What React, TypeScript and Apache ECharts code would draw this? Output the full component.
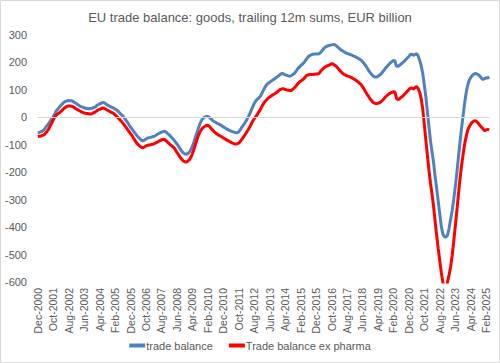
import React, { useEffect, useRef } from "react";
import * as echarts from "echarts";

const TITLE = "EU trade balance: goods, trailing 12m sums, EUR billion";
const MONTHS = ["Jan", "Feb", "Mar", "Apr", "May", "Jun", "Jul", "Aug", "Sep", "Oct", "Nov", "Dec"];
const START_YEAR = 2000;
const START_MONTH = 11; // Dec

// trade balance (EUR bn), monthly from Dec-2000
const tradeBalance: number[] = [
  -56,
  -55, -53, -50, -46, -37, -30, -23, -14, -6, 2, 12, 24,
  30, 37, 44, 50, 55, 58, 60, 61, 60, 60, 57, 53,
  50, 46, 42, 39, 37, 35, 33, 32, 31, 32, 33, 35,
  37, 42, 46, 49, 52, 54, 53, 49, 45, 42, 39, 36,
  34, 30, 27, 22, 16, 10, 5, -2, -10, -18, -27, -36,
  -43, -51, -58, -66, -72, -78, -83, -86, -83, -79, -76, -74,
  -73, -71, -70, -67, -63, -60, -57, -54, -52, -51, -54, -59,
  -64, -70, -76, -82, -90, -97, -105, -114, -122, -129, -133, -135,
  -132, -127, -118, -106, -90, -72, -55, -38, -22, -10, -3, 1,
  3, 3, 0, -6, -11, -15, -18, -22, -24, -27, -31, -35,
  -38, -42, -45, -48, -50, -52, -54, -56, -56, -53, -45, -36,
  -28, -20, -11, 0, 12, 25, 38, 50, 60, 66, 71, 76,
  88, 99, 110, 119, 124, 128, 132, 136, 140, 144, 148, 152,
  157, 160, 158, 155, 153, 151, 150, 152, 156, 160, 167, 176,
  182, 188, 193, 198, 206, 214, 221, 225, 228, 230, 231, 231,
  231, 232, 237, 244, 251, 256, 259, 261, 263, 264, 265, 265,
  261, 256, 251, 246, 243, 239, 236, 233, 231, 229, 227, 224,
  222, 219, 216, 212, 209, 203, 196, 189, 180, 171, 163, 156,
  150, 147, 147, 149, 153, 158, 165, 172, 180, 186, 192, 198,
  203, 207, 206, 186, 186, 190, 194, 199, 204, 210, 216, 222,
  229, 230, 226, 229, 232, 224, 208, 188, 160, 118, 75, 20,
  -34, -85, -125, -165, -215, -260, -305, -352, -398, -425, -435, -436,
  -430, -405, -372, -340, -300, -255, -205, -150, -95, -45, 2, 48,
  87, 115, 134, 145, 152, 157, 160, 158, 155, 150, 142, 138,
  141, 144, 143, 147,
];

// trade balance excluding pharmaceuticals (EUR bn)
const tradeBalanceExPharma: number[] = [
  -70,
  -69, -68, -66, -64, -58, -51, -43, -32, -21, -9, 2, 8,
  13, 17, 22, 27, 33, 37, 40, 41, 41, 40, 38, 34,
  30, 27, 24, 21, 18, 16, 15, 14, 13, 12, 13, 16,
  19, 23, 27, 29, 32, 34, 33, 30, 26, 23, 20, 17,
  14, 9, 4, -2, -8, -14, -21, -28, -36, -44, -52, -60,
  -67, -76, -85, -94, -100, -105, -109, -111, -108, -104, -102, -101,
  -100, -98, -97, -94, -91, -88, -85, -82, -81, -81, -85, -91,
  -96, -101, -106, -110, -118, -128, -136, -145, -152, -158, -162, -163,
  -160, -155, -146, -133, -117, -98, -80, -64, -53, -43, -37, -33,
  -30, -29, -33, -40, -46, -52, -57, -61, -65, -68, -71, -75,
  -78, -82, -85, -88, -91, -94, -96, -97, -96, -94, -88, -80,
  -72, -64, -55, -46, -36, -25, -14, -5, 3, 10, 20, 29,
  40, 50, 58, 64, 70, 74, 78, 82, 85, 89, 93, 98,
  102, 104, 104, 102, 100, 99, 98, 98, 102, 108, 114, 121,
  127, 132, 136, 140, 147, 153, 155, 156, 156, 156, 157, 158,
  158, 160, 168, 174, 180, 184, 187, 189, 192, 195, 194, 190,
  186, 180, 173, 167, 161, 157, 154, 151, 149, 147, 145, 141,
  138, 134, 130, 125, 120, 112, 103, 93, 84, 76, 67, 60,
  54, 51, 50, 51, 53, 57, 62, 68, 75, 80, 85, 88,
  91, 93, 92, 70, 64, 68, 73, 77, 83, 89, 95, 101,
  106, 107, 103, 108, 113, 105, 92, 68, 30, -25, -83, -138,
  -192, -240, -280, -325, -380, -430, -478, -522, -565, -600, -630, -640,
  -600, -575, -545, -505, -455, -400, -345, -285, -230, -180, -140, -101,
  -72, -48, -35, -25, -18, -14, -12, -16, -22, -30, -36, -42,
  -49, -46, -44, -46,
];

const Y_MIN = -600;
const Y_MAX = 300;
const Y_STEP = 100;

const categories: string[] = tradeBalance.map((_, i) => {
  const m = START_MONTH + i;
  return `${MONTHS[m % 12]}-${START_YEAR + Math.floor(m / 12)}`;
});

const TEXT = "#595959";
const FONT = "Liberation Sans, Arial, sans-serif";

export default function App() {
  const ref = useRef<HTMLDivElement>(null);
  useEffect(() => {
    if (!ref.current) return;
    const chart = echarts.init(ref.current, null, { renderer: "svg" });
    chart.setOption({
      animation: false,
      backgroundColor: "#ffffff",
      textStyle: { fontFamily: FONT },
      title: {
        text: TITLE,
        left: "center",
        top: 6,
        textStyle: { fontSize: 13, fontWeight: "normal", color: TEXT, fontFamily: FONT },
      },
      graphic: [
        {
          type: "rect",
          shape: { x: 0.5, y: 0.5, width: 499, height: 362 },
          style: { fill: "none", stroke: "#d9d9d9", lineWidth: 1 },
          silent: true,
        },
      ],
      legend: {
        data: ["trade balance", "Trade balance ex pharma"],
        bottom: 7,
        left: "center",
        icon: "rect",
        itemWidth: 16,
        itemHeight: 4,
        itemGap: 16,
        textStyle: { fontSize: 11, color: TEXT, fontFamily: FONT, padding: [0, 0, 0, -4] },
      },
      grid: { left: 37, right: 10, top: 35, bottom: 81, containLabel: false },
      xAxis: {
        type: "category",
        data: categories,
        boundaryGap: true,
        axisLine: { show: false, onZero: false },
        axisTick: { show: false },
        axisLabel: {
          interval: 9,
          rotate: 90,
          fontSize: 10.5,
          color: TEXT,
          margin: 6,
          fontFamily: FONT,
        },
        splitLine: { show: false },
      },
      yAxis: {
        type: "value",
        min: Y_MIN,
        max: Y_MAX,
        interval: Y_STEP,
        axisLine: { show: false },
        axisTick: { show: false },
        splitLine: { show: false },
        axisLabel: { fontSize: 11, color: TEXT, margin: 10, fontFamily: FONT },
      },
      series: [
        {
          name: "zero",
          type: "line",
          data: [],
          z: 1,
          silent: true,
          markLine: {
            silent: true,
            symbol: "none",
            label: { show: false },
            lineStyle: { color: "#d9d9d9", type: "solid", width: 1 },
            data: [{ yAxis: 0 }],
          },
        },
        {
          name: "trade balance",
          type: "line",
          data: tradeBalance,
          showSymbol: false,
          symbol: "none",
          z: 3,
          lineStyle: { color: "#4F81BD", width: 3 },
          itemStyle: { color: "#4F81BD" },
        },
        {
          name: "Trade balance ex pharma",
          type: "line",
          data: tradeBalanceExPharma,
          showSymbol: false,
          symbol: "none",
          z: 4,
          lineStyle: { color: "#FF0000", width: 3 },
          itemStyle: { color: "#FF0000" },
        },
      ],
    });
    return () => chart.dispose();
  }, []);
  return (
    <div
      ref={ref}
      style={{ position: "absolute", left: 0, top: 0, width: 500, height: 363 }}
    />
  );
}
